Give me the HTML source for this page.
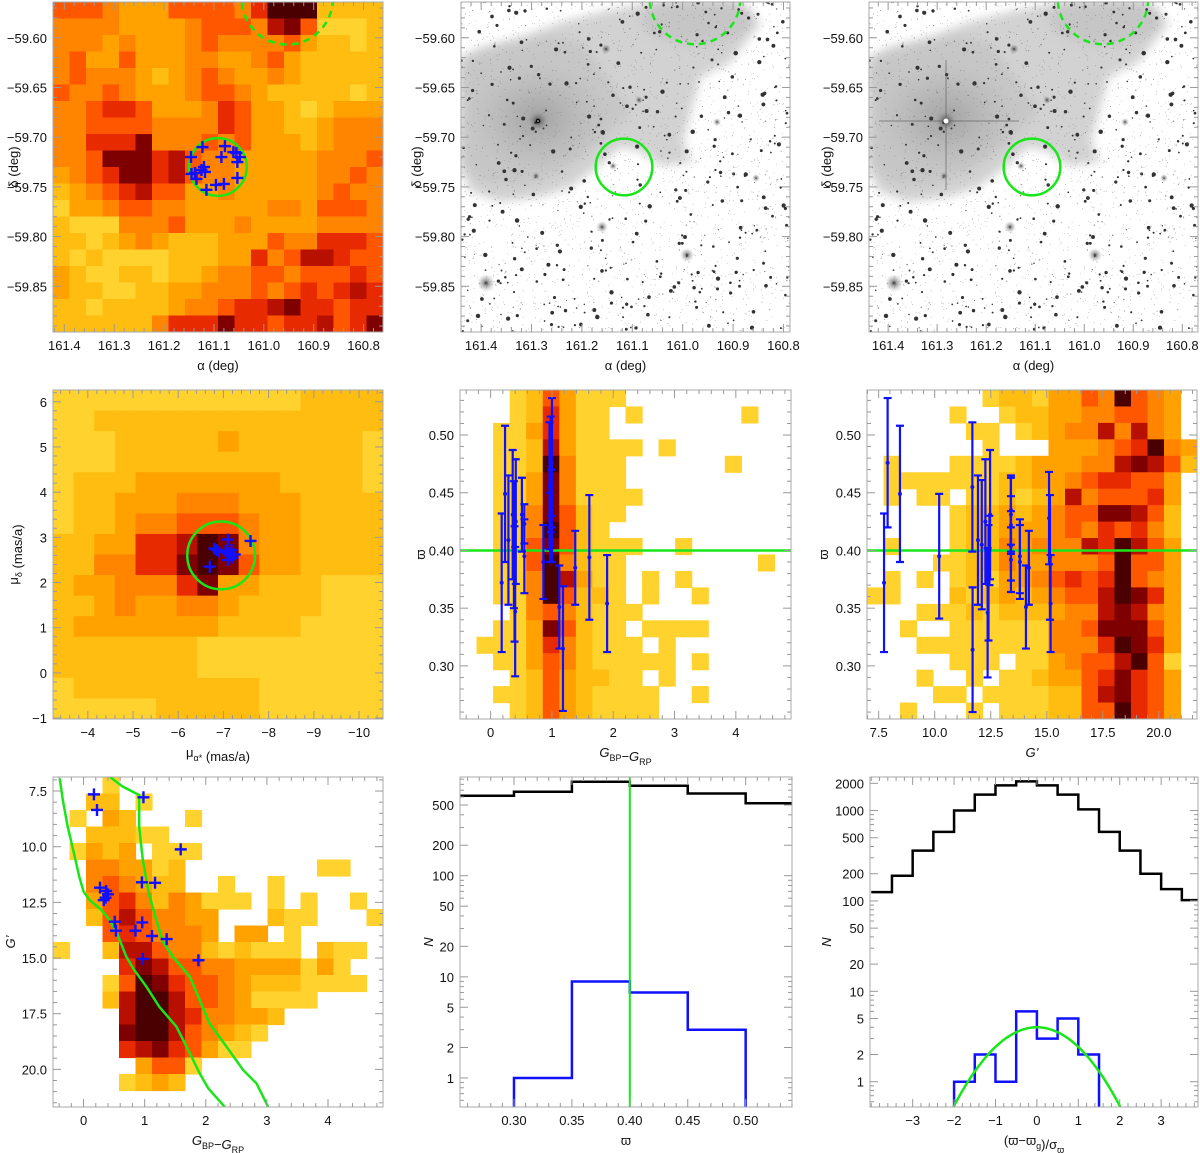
<!DOCTYPE html>
<html><head><meta charset="utf-8">
<style>
html,body{margin:0;padding:0;background:#fff;}
svg{display:block;font-family:"Liberation Sans",sans-serif;}
</style></head>
<body>
<svg id="fig" width="1200" height="1153" viewBox="0 0 1200 1153" xmlns="http://www.w3.org/2000/svg">
<defs>
<filter id="blur6" x="-20%" y="-20%" width="140%" height="140%"><feGaussianBlur stdDeviation="5"/></filter>
<radialGradient id="halo"><stop offset="0" stop-color="#000" stop-opacity="0.85"/><stop offset="0.25" stop-color="#333" stop-opacity="0.5"/><stop offset="1" stop-color="#888" stop-opacity="0"/></radialGradient>
<radialGradient id="coreneb"><stop offset="0" stop-color="#777" stop-opacity="0.45"/><stop offset="1" stop-color="#999" stop-opacity="0"/></radialGradient>
</defs>
</svg>
<script>
// ---------- DATA ----------
const skyGrid = [
"55543335555469992222","44443333455547851112","44434333454444532212","45335333443345322222",
"45444323454334322222","54454333455432222212","44566533346533212333","44555544446533223444",
"44666844454533323444","44588867544333334445","34568867544333334454","23456755334333334544",
"13345544333334435554","21114445333433334444","22123432223335446665","21211112223364577655",
"32112212234455455565","32211223344454565676","22122223445667866566","22222246668665667568"];
const skyMembersRA = [161.146,161.123,161.078,161.085,161.061,161.055,161.048,161.053,161.145,161.138,161.135,161.125,161.120,161.118,161.115,161.096,161.080,161.053];
const skyMembersDec = [-59.720,-59.710,-59.709,-59.720,-59.715,-59.716,-59.720,-59.725,-59.737,-59.736,-59.742,-59.733,-59.730,-59.735,-59.753,-59.748,-59.747,-59.741];
const clusterCircle = [161.092,-59.730,0.029];
const neighbourCircle = [160.953,-59.561,0.0458];
const pmGrid = [
"1111111111112222","1122222222222222","1112222232222221","1112222222222221",
"1222333333322221","1223334443332222","1223445554332222","2233667984332222",
"2244668985332222","2334446833222111","2234334432222111","2333333322221111",
"2222222111111111","2222222111111111","1222222222111111","1111122222111111"];
const pmMembersA = [-7.1,-7.15,-7.2,-7.05,-7.25,-7.1,-7.18,-6.85,-6.9,-6.8,-7.6,-6.7,-7.1];
const pmMembersD = [2.65,2.6,2.55,2.7,2.62,2.5,2.72,2.72,2.68,2.75,2.92,2.35,2.95];
const pmCircle = [-6.95,2.6,0.75];
const cpGrid = [
"00012531110000000000","00012631101000000100","00113631100000000000","00112731111010000000",
"00112941110000001000","00113841110000000000","00113841111000000000","00114852110000000000",
"00114952100000000000","00115852111001000000","00115942110000000010","00114973110101000000",
"00114952210100100000","00014542111000000000","00113852110111100000","01113642111010000000",
"00113542111110100000","00012532211010000000","00112532111100100000","00012532111100000000"];
const memColour = [0.18,0.235,0.29,0.36,0.38,0.40,0.41,0.39,0.51,0.55,0.55,0.86,0.96,0.98,1.0,0.99,0.97,1.0,1.12,1.18,1.38,1.61,1.90];
const memPlxC = [0.372,0.449,0.409,0.431,0.405,0.347,0.425,0.371,0.431,0.395,0.423,0.390,0.456,0.466,0.476,0.430,0.420,0.410,0.351,0.315,0.385,0.394,0.354];
const memErrC = [0.060,0.059,0.056,0.056,0.055,0.056,0.054,0.050,0.032,0.032,0.017,0.032,0.055,0.050,0.056,0.040,0.030,0.020,0.036,0.054,0.032,0.054,0.042];
const plxRef = 0.40;
const gpGrid = [
"00000001221335495430","00000100122334455430","00000011012344747430","00000001000333456943",
"01000111123334478752","01111111223345665530","01011011212374555630","00000122323455887520",
"00000122333454656420","01000122434447697530","00001122433444595530","01010121334565695430",
"11000212323455798630","00011121222344787430","00100111111445888530","00011111111444698630",
"00000111011345579510","00010010112335686530","00001101111225786530","00100010111225596530"];
const memG = [7.74,7.90,8.45,10.2,11.68,11.69,11.93,12.1,12.26,12.36,12.40,12.47,12.44,13.4,13.4,13.4,13.4,13.4,13.8,13.8,14.07,14.2,15.1,15.14,15.17];
const memPlxG = [0.372,0.476,0.449,0.395,0.455,0.314,0.409,0.405,0.425,0.346,0.372,0.431,0.400,0.435,0.431,0.422,0.404,0.392,0.395,0.390,0.351,0.385,0.428,0.394,0.354];
const memErrG = [0.060,0.056,0.059,0.054,0.056,0.054,0.056,0.056,0.054,0.056,0.050,0.056,0.030,0.030,0.032,0.025,0.030,0.028,0.032,0.032,0.036,0.032,0.040,0.054,0.042];
const cmdGrid = [
"00010000000000000000","00220100000000000000","01032000100000000000","00222110000000000000",
"01323011100000000000","00443312000000001100","00454322001001000000","00356424311101010010",
"00257544330002110001","00056544430330100000","10027754421211102110","00006875544333313100",
"00015986554322211110","00027997554311110000","00007997644332000000","00008997543210000000",
"00006786531100000000","00000355100000000000","00001232000000000000","00000000000000000000"];
const cmdColour = [0.17,0.22,0.98,1.59,0.955,1.17,0.27,0.37,0.40,0.36,0.33,0.51,0.53,0.96,0.85,1.12,1.36,0.97,1.88];
const cmdG = [7.65,8.35,7.78,10.12,11.6,11.62,11.84,11.99,12.14,12.29,12.4,13.37,13.77,13.4,13.77,14.01,14.15,15.04,15.1];
const isoLeftC = [-0.39,-0.34,-0.26,-0.17,-0.07,0,0.1,0.29,0.43,0.56,0.70,0.83,1.03,1.24,1.52,1.74,1.9,2.04,2.31];
const isoLeftG = [6.93,7.9,9.1,10.15,11.35,12.02,12.4,12.84,13.3,13.97,14.94,15.54,16.29,17.19,18.08,19.28,20.18,20.85,21.68];
const isoRightC = [0.43,0.64,0.91,0.91,0.97,1.07,1.19,1.30,1.46,1.74,1.90,2.06,2.34,2.61,2.83,3.02];
const isoRightG = [6.86,7.3,7.68,9.1,10.6,12.1,13.3,14.27,14.94,15.84,16.89,17.93,18.98,20.03,20.63,21.68];
const plxEdges = [0.25,0.30,0.35,0.40,0.45,0.50,0.55];
const plxAll = [617,676,850,776,650,520];
const plxMem = [0.3,1,9,7,3,0.3];
const resEdges = [-4,-3.5,-3,-2.5,-2,-1.5,-1,-0.5,0,0.5,1,1.5,2,2.5,3,3.5,4];
const resAll = [125,190,360,580,1000,1500,1900,2100,1900,1500,1030,580,360,200,135,102];
const resMem = [0.3,0.3,0.3,0.3,1,2,1,6,3,5,2,0.3,0.3,0.3,0.3,0.3];
const gaussAmp = 4, gaussSigma = 1;

// ---------- DRAWING ----------
const NS = "http://www.w3.org/2000/svg";
const svg = document.getElementById('fig');
function mk(tag, name, inter, parent, attrs) {
  const el = document.createElementNS(NS, tag);
  
  
  for (const k in attrs) el.setAttribute(k, attrs[k]);
  (parent || svg).appendChild(el);
  return el;
}
const palette = ["#ffffff","#ffd22e","#ffbd12","#ffa200","#ff8400","#ff5600","#e82a00","#b81000","#7e0000","#4a0000"];
const GREEN = "#19e619", BLUE = "#1010ff";

function makePanel(name, p) {
  const g = mk('g', name, 'false', svg, {});
  p.g = g;
  const ly = p.ylog;
  p.sx = v => p.x + (v - p.xmin) / (p.xmax - p.xmin) * p.w;
  p.sy = v => ly ? p.y + (Math.log10(p.ymax) - Math.log10(v)) / (Math.log10(p.ymax) - Math.log10(p.ymin)) * p.h
                 : p.y + (p.ymax - v) / (p.ymax - p.ymin) * p.h;
  const cid = name + '-clip';
  const cp = mk('clipPath', 'clip', 'false', svg.querySelector('defs'), {id: cid});
  mk('rect', 'clip-rect', 'false', cp, {x: p.x, y: p.y, width: p.w, height: p.h});
  p.plot = mk('g', 'plot-area', 'false', g, {'clip-path': 'url(#' + cid + ')'});
  return p;
}
function finishAxes(p) {
  const g = mk('g', 'axes', 'false', p.g, {});
  mk('rect', 'frame', 'false', g, {x: p.x, y: p.y, width: p.w, height: p.h, fill: 'none', stroke: '#aaa', 'stroke-width': 1});
  const tk = (x1, y1, x2, y2, nm) => mk('line', nm, 'false', g, {x1, y1, x2, y2, stroke: '#999', 'stroke-width': 1});
  const lo = Math.min(p.xmin, p.xmax), hi = Math.max(p.xmin, p.xmax);
  for (let v = Math.ceil(lo / p.xminor - 1e-6) * p.xminor; v <= hi + 1e-9; v += p.xminor) {
    const X = p.sx(v); const major = p.xt.some(t => Math.abs(t - v) < p.xminor / 3);
    const L = major ? 8 : 4;
    tk(X, p.y + p.h, X, p.y + p.h - L, 'x-tick'); tk(X, p.y, X, p.y + L, 'x-tick-top');
  }
  p.xt.forEach((t, i) => {
    const tx = mk('text', 'x-tick-label', 'false', g, {x: p.sx(t), y: p.y + p.h + 18, 'text-anchor': 'middle', 'font-size': 13, fill: '#111'});
    tx.textContent = p.xl[i];
  });
  if (p.ylog) {
    for (let d = -1; d <= 4; d++) for (let k = 1; k <= 9; k++) {
      const v = k * Math.pow(10, d); if (v < p.ymin || v > p.ymax) continue;
      const Y = p.sy(v); const major = p.yt.some(t => Math.abs(t - v) < 1e-9 * v + 1e-9);
      const L = major ? 8 : 4;
      tk(p.x, Y, p.x + L, Y, 'y-tick'); tk(p.x + p.w, Y, p.x + p.w - L, Y, 'y-tick-right');
    }
  } else {
    for (let v = Math.ceil(p.ymin / p.yminor - 1e-6) * p.yminor; v <= p.ymax + 1e-9; v += p.yminor) {
      const Y = p.sy(v); const major = p.yt.some(t => Math.abs(t - v) < p.yminor / 3);
      const L = major ? 8 : 4;
      tk(p.x, Y, p.x + L, Y, 'y-tick'); tk(p.x + p.w, Y, p.x + p.w - L, Y, 'y-tick-right');
    }
  }
  p.yt.forEach((t, i) => {
    const tx = mk('text', 'y-tick-label', 'false', g, {x: p.x - 6, y: p.sy(t) + 5, 'text-anchor': 'end', 'font-size': 13, fill: '#111'});
    tx.textContent = p.yl[i];
  });
  const xt = mk('text', 'x-axis-title', 'false', g, {x: p.x + p.w / 2, y: p.y + p.h + 38, 'text-anchor': 'middle', 'font-size': 13, fill: '#111'});
  xt.innerHTML = p.xtitle;
  const yt = mk('text', 'y-axis-title', 'false', g, {x: 0, y: 0, 'text-anchor': 'middle', 'font-size': 13, fill: '#111',
    transform: 'translate(' + p.ytx + ',' + (p.y + p.h / 2) + ') rotate(-90)'});
  yt.innerHTML = p.ytitle;
}
function drawGrid(p, grid, x0, x1, y0, y1, name) {
  const rows = grid.length, cols = grid[0].length;
  const gg = mk('g', name, 'false', p.plot, {});
  for (let r = 0; r < rows; r++) for (let c = 0; c < cols; c++) {
    const v = +grid[r][c]; if (!v) continue;
    const xa = p.sx(x0 + (x1 - x0) * c / cols), xb = p.sx(x0 + (x1 - x0) * (c + 1) / cols);
    const ya = p.sy(y1 - (y1 - y0) * r / rows), yb = p.sy(y1 - (y1 - y0) * (r + 1) / rows);
    mk('rect', 'density-cell', 'false', gg, {x: Math.min(xa, xb), y: Math.min(ya, yb), width: Math.abs(xb - xa) + 0.6, height: Math.abs(yb - ya) + 0.6, fill: palette[v]});
  }
}
function crosses(p, xs, ys, name) {
  const gg = mk('g', name, 'false', p.plot, {});
  xs.forEach((x, i) => {
    const X = p.sx(x), Y = p.sy(ys[i]);
    mk('path', 'member-cross', 'false', gg, {d: `M${X-6} ${Y}H${X+6}M${X} ${Y-6}V${Y+6}`, stroke: BLUE, 'stroke-width': 2.4});
  });
}
function circle(p, c, dashed, name) {
  const X = p.sx(c[0]), Y = p.sy(c[1]);
  const R = Math.abs(p.sy(c[1] - c[2]) - Y);
  const a = {cx: X, cy: Y, r: R, fill: 'none', stroke: GREEN, 'stroke-width': 2.5};
  if (dashed) a['stroke-dasharray'] = '7 5';
  mk('circle', name, 'false', p.plot, a);
}
function errbars(p, xs, ys, es, name) {
  const gg = mk('g', name, 'false', p.plot, {});
  xs.forEach((x, i) => {
    const X = p.sx(x), Ya = p.sy(ys[i] + es[i]), Yb = p.sy(ys[i] - es[i]), Y = p.sy(ys[i]);
    mk('path', 'error-bar', 'false', gg, {d: `M${X} ${Ya}V${Yb}M${X-4} ${Ya}H${X+4}M${X-4} ${Yb}H${X+4}`, stroke: BLUE, 'stroke-width': 2.2, fill: 'none'});
    mk('circle', 'error-bar-point', 'false', gg, {cx: X, cy: Y, r: 2, fill: BLUE});
  });
}
function polyline(p, xs, ys, name, color, w) {
  const pts = xs.map((x, i) => p.sx(x).toFixed(1) + ',' + p.sy(ys[i]).toFixed(1)).join(' ');
  mk('polyline', name, 'false', p.plot, {points: pts, fill: 'none', stroke: color, 'stroke-width': w});
}
function stepHist(p, edges, vals, name, color) {
  let d = '';
  vals.forEach((v, i) => {
    const xa = p.sx(edges[i]), xb = p.sx(edges[i + 1]), Y = p.sy(v);
    d += (i === 0 ? 'M' : 'L') + xa + ' ' + Y + 'L' + xb + ' ' + Y;
  });
  mk('path', name, 'false', p.plot, {d, fill: 'none', stroke: color, 'stroke-width': 2.5});
}
const sub = s => `<tspan font-size="9" dy="4">${s}</tspan><tspan dy="-4"></tspan>`;

// ----- Panel 1 -----
const raT = [161.4,161.3,161.2,161.1,161.0,160.9,160.8], raL = ["161.4","161.3","161.2","161.1","161.0","160.9","160.8"];
const decT = [-59.60,-59.65,-59.70,-59.75,-59.80,-59.85], decL = ["\u221259.60","\u221259.65","\u221259.70","\u221259.75","\u221259.80","\u221259.85"];
const p1 = makePanel('sky-density-panel', {x:53,y:2,w:330,h:330,xmin:161.4227,xmax:160.761,ymin:-59.896,ymax:-59.564,
  xt:raT,xl:raL,xminor:0.02,yt:decT,yl:decL,yminor:0.01,xtitle:'\u03b1 (deg)',ytitle:'\u03b4 (deg)',ytx:18});
drawGrid(p1, skyGrid, 161.4227, 160.761, -59.896, -59.564, 'sky-density-map');
circle(p1, clusterCircle, false, 'cluster-circle');
circle(p1, neighbourCircle, true, 'neighbour-circle');
crosses(p1, skyMembersRA, skyMembersDec, 'cluster-members');
finishAxes(p1);

// ----- Panels 2 & 3 (sky images) -----
function rng(seed){return function(){seed|=0;seed=seed+0x6D2B79F5|0;let t=Math.imul(seed^seed>>>15,1|seed);t=t+Math.imul(t^t>>>7,61|t)^t;return((t^t>>>14)>>>0)/4294967296;};}
function skyImage(name, x0, spikes, xmin, xmax, ytx) {
  const p = makePanel(name, {x:x0,y:2,w:329,h:330,xmin:xmin,xmax:xmax,ymin:-59.896,ymax:-59.564,
    xt:raT,xl:raL,xminor:0.02,yt:decT,yl:decL,yminor:0.01,xtitle:'\u03b1 (deg)',ytitle:'\u03b4 (deg)',ytx:ytx});
  const neb = [[0,55],[20,45],[60,35],[100,20],[140,10],[190,0],[280,0],[300,20],[285,40],[270,60],[240,75],[230,110],[222,140],[232,160],[200,164],[180,150],[160,145],[140,162],[110,185],[80,195],[40,200],[10,190],[0,170]];
  mk('polygon', 'nebula', 'false', p.plot, {points: neb.map(q => (q[0]+x0)+','+(q[1]+2)).join(' '), fill: '#d2d2d2', filter: 'url(#blur6)'});
  const neb2 = [[0,60],[40,45],[90,35],[120,40],[150,80],[170,110],[140,140],[100,170],[60,185],[20,180],[0,160]];
  mk('polygon', 'nebula-inner', 'false', p.plot, {points: neb2.map(q => (q[0]+x0)+','+(q[1]+2)).join(' '), fill: '#bfbfbf', opacity: 0.6, filter: 'url(#blur6)'});
  mk('ellipse', 'nebula-core', 'false', p.plot, {cx: x0+77, cy: 118, rx: 70, ry: 55, fill: 'url(#coreneb)'});
  mk('ellipse', 'nebula-top', 'false', p.plot, {cx: x0+235, cy: 20, rx: 55, ry: 25, fill: '#bbb', opacity: 0.5, filter: 'url(#blur6)'});
  const R = rng(12345);
  const sg = mk('g', 'field-stars', 'false', p.plot, {});
  for (let i = 0; i < 2600; i++) {
    const sx = x0 + R() * 329, sy = 2 + R() * 330, m = R();
    const r = 0.35 + Math.pow(m, 10) * 1.9;
    mk('circle', 'star', 'false', sg, {cx: sx.toFixed(1), cy: sy.toFixed(1), r: r.toFixed(2), fill: m > 0.85 ? '#333' : '#777'});
  }
  [[77,121,10],[25,283,9],[226,255,7],[141,227,6],[145,49,5],[256,122,4],[152,166,4],[75,176,4],[178,100,4],[295,178,4]].forEach(s => {
    mk('circle', 'bright-star-halo', 'false', p.plot, {cx: x0+s[0], cy: s[1], r: s[2], fill: 'url(#halo)'});
  });
  if (spikes) {
    mk('path', 'diffraction-spikes', 'false', p.plot, {d:`M${x0+10} 121H${x0+150}M${x0+77} 60V190`, stroke:'#555', 'stroke-width':1, opacity:0.6});
    mk('circle', 'saturated-core', 'false', p.plot, {cx:x0+77, cy:121, r:2.5, fill:'#fff'});
  } else {
    mk('circle', 'saturated-core', 'false', p.plot, {cx:x0+77, cy:121, r:1.5, fill:'#fff', stroke:'#000', 'stroke-width':1.5});
  }
  const cx = xmin + (xmax - xmin) * (624 - 461) / 329, dx = xmin + (xmax - xmin) * (695 - 461) / 329;
  circle(p, [cx,-59.730,0.0285], false, 'cluster-circle');
  circle(p, [dx,-59.561,0.0455], true, 'neighbour-circle');
  finishAxes(p);
}
skyImage('sky-image-panel', 461, false, 161.44, 160.787, 421);
skyImage('sky-image-panel-2', 869, true, 161.439, 160.768, 831);

// ----- Panel 4 -----
const p4 = makePanel('proper-motion-panel', {x:53,y:390,w:330,h:329,xmin:-3.23,xmax:-10.53,ymin:-1.02,ymax:6.26,
  xt:[-4,-5,-6,-7,-8,-9,-10],xl:["\u22124","\u22125","\u22126","\u22127","\u22128","\u22129","\u221210"],xminor:0.2,
  yt:[-1,0,1,2,3,4,5,6],yl:["\u22121","0","1","2","3","4","5","6"],yminor:0.2,
  xtitle:'\u03bc'+sub('\u03b1*')+' (mas/a)',ytitle:'\u03bc'+sub('\u03b4')+' (mas/a)',ytx:18});
drawGrid(p4, pmGrid, -3.23, -10.53, -1.02, 6.26, 'pm-density-map');
circle(p4, pmCircle, false, 'pm-selection-circle');
crosses(p4, pmMembersA, pmMembersD, 'pm-members');
finishAxes(p4);

// ----- Panel 5 -----
const plxT = [0.30,0.35,0.40,0.45,0.50], plxL = ["0.30","0.35","0.40","0.45","0.50"];
const p5 = makePanel('colour-parallax-panel', {x:460,y:390,w:331,h:329,xmin:-0.5,xmax:4.9,ymin:0.254,ymax:0.539,
  xt:[0,1,2,3,4],xl:["0","1","2","3","4"],xminor:0.2,yt:plxT,yl:plxL,yminor:0.01,
  xtitle:'<tspan font-style="italic">G</tspan>'+sub('BP')+'\u2212<tspan font-style="italic">G</tspan>'+sub('RP'),ytitle:'\u03d6',ytx:425});
drawGrid(p5, cpGrid, -0.5, 4.9, 0.254, 0.539, 'colour-parallax-density');
polyline(p5, [-0.5,4.9], [plxRef,plxRef], 'mean-parallax-line', GREEN, 2.5);
errbars(p5, memColour, memPlxC, memErrC, 'member-parallaxes');
finishAxes(p5);

// ----- Panel 6 -----
const p6 = makePanel('magnitude-parallax-panel', {x:867,y:390,w:330,h:329,xmin:6.98,xmax:21.7,ymin:0.254,ymax:0.539,
  xt:[7.5,10,12.5,15,17.5,20],xl:["7.5","10.0","12.5","15.0","17.5","20.0"],xminor:0.5,yt:plxT,yl:plxL,yminor:0.01,
  xtitle:'<tspan font-style="italic">G\u2019</tspan>',ytitle:'\u03d6',ytx:828});
drawGrid(p6, gpGrid, 6.98, 21.7, 0.254, 0.539, 'magnitude-parallax-density');
polyline(p6, [6.98,21.7], [plxRef,plxRef], 'mean-parallax-line', GREEN, 2.5);
errbars(p6, memG, memPlxG, memErrG, 'member-parallaxes');
finishAxes(p6);

// ----- Panel 7 -----
const p7 = makePanel('cmd-panel', {x:53,y:777,w:330,h:330,xmin:-0.5,xmax:4.9,ymin:-21.69,ymax:-6.87,
  xt:[0,1,2,3,4],xl:["0","1","2","3","4"],xminor:0.2,yt:[-7.5,-10,-12.5,-15,-17.5,-20],yl:["7.5","10.0","12.5","15.0","17.5","20.0"],yminor:0.5,
  xtitle:'<tspan font-style="italic">G</tspan>'+sub('BP')+'\u2212<tspan font-style="italic">G</tspan>'+sub('RP'),ytitle:'<tspan font-style="italic">G\u2019</tspan>',ytx:15});
const neg = a => a.map(v => -v);
drawGrid(p7, cmdGrid, -0.5, 4.9, -21.69, -6.87, 'cmd-density');
polyline(p7, isoLeftC, neg(isoLeftG), 'isochrone-blue-edge', GREEN, 2.5);
polyline(p7, isoRightC, neg(isoRightG), 'isochrone-red-edge', GREEN, 2.5);
crosses(p7, cmdColour, neg(cmdG), 'cmd-members');
finishAxes(p7);

// ----- Panel 8 -----
const p8 = makePanel('parallax-histogram-panel', {x:460,y:777,w:332,h:330,xmin:0.2534,xmax:0.54,ymin:0.516,ymax:946,ylog:true,
  xt:plxT,xl:plxL,xminor:0.01,yt:[1,2,5,10,20,50,100,200,500],yl:["1","2","5","10","20","50","100","200","500"],
  xtitle:'\u03d6',ytitle:'<tspan font-style="italic">N</tspan>',ytx:433});
stepHist(p8, plxEdges, plxAll, 'field-histogram', '#000');
stepHist(p8, plxEdges, plxMem, 'member-histogram', BLUE);
polyline(p8, [plxRef,plxRef], [0.3,2000], 'mean-parallax-line', GREEN, 2);
finishAxes(p8);

// ----- Panel 9 -----
const p9 = makePanel('residual-histogram-panel', {x:870,y:777,w:328,h:330,xmin:-4.03,xmax:3.89,ymin:0.525,ymax:2350,ylog:true,
  xt:[-3,-2,-1,0,1,2,3],xl:["\u22123","\u22122","\u22121","0","1","2","3"],xminor:0.2,
  yt:[1,2,5,10,20,50,100,200,500,1000,2000],yl:["1","2","5","10","20","50","100","200","500","1000","2000"],
  xtitle:'(\u03d6\u2212\u03d6'+sub('g')+')/\u03c3'+sub('\u03d6'),ytitle:'<tspan font-style="italic">N</tspan>',ytx:831});
stepHist(p9, resEdges, resAll, 'field-histogram', '#000');
stepHist(p9, resEdges, resMem, 'member-histogram', BLUE);
const gx = [], gy = [];
for (let i = 0; i <= 80; i++) { const x = -2.2 + 4.4 * i / 80; gx.push(x); gy.push(gaussAmp * Math.exp(-x * x / (2 * gaussSigma * gaussSigma))); }
polyline(p9, gx, gy, 'gaussian-fit', GREEN, 2.5);
finishAxes(p9);
</script>
</body></html>
